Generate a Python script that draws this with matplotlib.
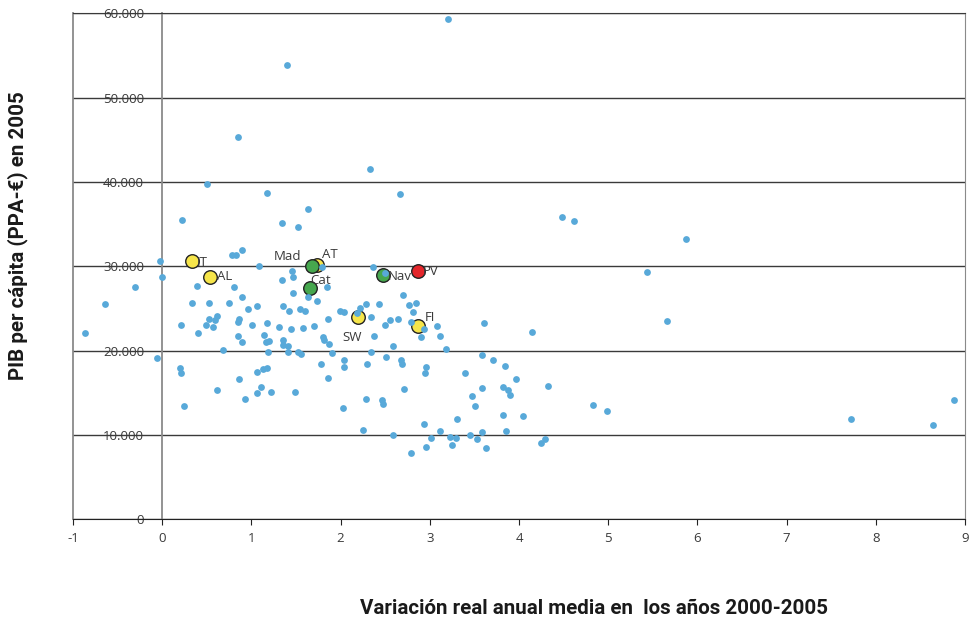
import matplotlib.pyplot as plt
from matplotlib.ticker import FuncFormatter, MultipleLocator

# Puntos de todas las regiones (variación media 2000-2005, PIB per cápita 2005)
x_regiones = [
    -0.86, -0.64, -0.31, -0.02, 0.00, -0.06, 0.22, 0.50, 0.85, 1.18, 1.40, 3.20,
    1.63, 1.34, 1.52, 0.90, 0.78, 0.83, 1.09, 1.79, 1.45, 1.47, 1.34, 0.39,
    0.80, 1.85, 1.47, 0.90, 1.63, 1.74, 0.33, 0.53, 0.75, 1.06, 1.36, 0.96,
    1.42, 1.54, 1.60, 1.99, 2.04, 0.53, 0.61, 0.59, 0.57, 0.49, 0.21, 0.40,
    0.86, 0.85, 1.01, 1.18, 1.31, 1.44, 1.58, 1.70, 1.86, 0.85, 0.89, 1.14,
    1.16, 1.20, 1.35, 1.35, 1.41, 1.80, 1.81, 1.87, 0.68, 1.19, 1.41, 1.52,
    1.56, 1.90, 2.04, 2.04, 0.20, 0.21, 0.86, 1.06, 1.13, 1.17, 1.78, 1.86,
    0.62, 1.11, 1.06, 1.22, 1.49, 0.93, 0.24, 2.03, 2.18, 2.33, 2.67, 4.48,
    4.62, 2.36, 2.50, 2.70, 2.28, 2.22, 2.43, 2.77, 2.84, 2.81, 2.34, 2.55,
    2.50, 2.64, 2.79, 2.93, 3.08, 2.90, 3.12, 3.61, 4.15, 2.38, 2.59, 3.18,
    2.34, 3.58, 3.71, 3.84, 2.30, 2.51, 2.68, 2.69, 2.96, 2.95, 3.39, 3.97,
    3.82, 3.88, 3.90, 4.33, 3.58, 2.71, 2.29, 2.46, 2.47, 3.47, 3.51, 4.05,
    3.82, 3.31, 2.93, 2.25, 2.59, 3.11, 3.01, 3.23, 3.29, 3.45, 3.58, 3.53,
    3.85, 2.96, 2.79, 3.25, 3.63, 4.25, 4.29, 4.83, 4.99, 5.87, 5.43, 5.66,
    7.72, 8.64, 8.88,
]
y_regiones = [
    22100, 25500, 27500, 30600, 28700, 19100, 35500, 39800, 45300, 38700, 53900, 59300,
    36800, 35200, 34700, 32000, 31300, 31300, 30100, 29900, 29500, 28700, 28400, 27700,
    27600, 27500, 26900, 26400, 26400, 25900, 25700, 25600, 25600, 25300, 25300, 24900,
    24700, 24900, 24700, 24700, 24600, 23800, 24100, 23700, 22800, 23000, 23000, 22100,
    23800, 23400, 23100, 23300, 22800, 22600, 22700, 22900, 23800, 21800, 21000, 21900,
    21000, 21100, 21300, 20700, 20600, 21600, 21300, 20800, 20100, 19900, 19900, 19900,
    19600, 19700, 18900, 18100, 17900, 17400, 16700, 17500, 17800, 18000, 18400, 16800,
    15300, 15700, 15000, 15100, 15100, 14300, 13400, 13200, 24500, 41600, 38600, 35900,
    35400, 29900, 29200, 26600, 25500, 25100, 25500, 25400, 25600, 24600, 24000, 23600,
    23100, 23800, 23400, 22600, 22900, 21600, 21800, 23300, 22200, 21800, 20600, 20200,
    19900, 19500, 18900, 18200, 18400, 19200, 18900, 18400, 18100, 17400, 17300, 16600,
    15700, 15300, 14700, 15800, 15600, 15400, 14300, 14200, 13700, 14600, 13400, 12300,
    12400, 11900, 11300, 10600, 10000, 10500, 9700, 9800, 9700, 10000, 10300, 9500,
    10500, 8600, 7900, 8800, 8500, 9100, 9500, 13500, 12800, 33200, 29300, 23500,
    11900, 11200, 14100,
]

# Regiones destacadas
nombres = ['IT', 'AL', 'AT', 'SW', 'FI', 'Mad', 'Cat', 'Nav', 'PV']
x_dest = [0.33, 0.54, 1.74, 2.19, 2.87, 1.68, 1.66, 2.47, 2.87]
y_dest = [30600, 28800, 30200, 24000, 22900, 30100, 27400, 29000, 29400]
grupo = ['europa', 'europa', 'europa', 'europa', 'europa', 'espana', 'espana', 'espana', 'pv']

colores = {'europa': '#F6E54A', 'espana': '#46A74E', 'pv': '#E4262B'}
orden = {'europa': 2, 'espana': 3, 'pv': 4}
# posición de cada etiqueta respecto a su punto (puntos tipográficos)
desplaz = {
    'IT': (3.5, -0.5, 'left'), 'AL': (4.5, 0, 'left'), 'AT': (3, 7, 'left'),
    'SW': (-4, -15, 'center'), 'FI': (5, 6, 'left'), 'Mad': (-8, 6.5, 'right'),
    'Cat': (0, 5.5, 'left'), 'Nav': (4, -1, 'left'), 'PV': (3, 0, 'left'),
}

plt.rcParams['font.family'] = ['Open Sans', 'DejaVu Sans']
plt.rcParams['axes.unicode_minus'] = False

fig = plt.figure(figsize=(9.73, 6.18), dpi=100)
ax = fig.add_axes([0.075, 0.1597, 0.9168, 0.8185])

for i in range(len(nombres)):
    ax.scatter(x_dest[i], y_dest[i], s=95, color=colores[grupo[i]],
               edgecolors='#222222', linewidths=1.0, zorder=orden[grupo[i]])
    dx, dy, ha = desplaz[nombres[i]]
    ax.annotate(nombres[i], (x_dest[i], y_dest[i]), xytext=(dx, dy),
                textcoords='offset points', ha=ha, va='center',
                fontsize=9.5, color='#3a3a3a', zorder=6)

ax.scatter(x_regiones, y_regiones, s=24, color='#58A9D9', linewidths=0, zorder=5)

ax.set_xlim(-1, 9)
ax.set_ylim(0, 60000)
ax.xaxis.set_major_locator(MultipleLocator(1))
ax.yaxis.set_major_locator(MultipleLocator(10000))
ax.yaxis.set_major_formatter(FuncFormatter(lambda v, p: f'{int(v):,}'.replace(',', '.')))

# eje vertical en x = 0, como en Excel
ax.spines['left'].set_position(('data', 0))
ax.spines['left'].set_color('#8a8a8a')
ax.spines['left'].set_linewidth(1.3)
ax.spines['right'].set_color('#8a8a8a')
ax.spines['top'].set_color('#3a3a3a')
ax.spines['bottom'].set_color('#222222')
ax.axvline(-1, color='#8a8a8a', lw=1.3, clip_on=False)

ax.yaxis.grid(True, color='#3a3a3a', lw=1.0)
ax.set_axisbelow(True)
ax.tick_params(axis='y', length=0, pad=13, labelsize=9.5, labelcolor='#3a3a3a')
ax.tick_params(axis='x', length=4, direction='out', color='#222222', pad=5,
               labelsize=9.5, labelcolor='#3a3a3a')

# títulos de los ejes en negrita
fig.text(593.5 / 973, 1 - 608 / 618, 'Variación real anual media en  los años 2000-2005',
         ha='center', va='center', fontsize=14.8, fontweight='bold', color='#1a1a1a',
         family=['Roboto', 'DejaVu Sans'])
fig.text(18 / 973, 1 - 236 / 618, 'PIB per cápita (PPA-€) en 2005', rotation=90,
         ha='center', va='center', fontsize=14.8, fontweight='bold', color='#1a1a1a',
         family=['Roboto', 'DejaVu Sans'])

fig.savefig('out.png', dpi=100)
